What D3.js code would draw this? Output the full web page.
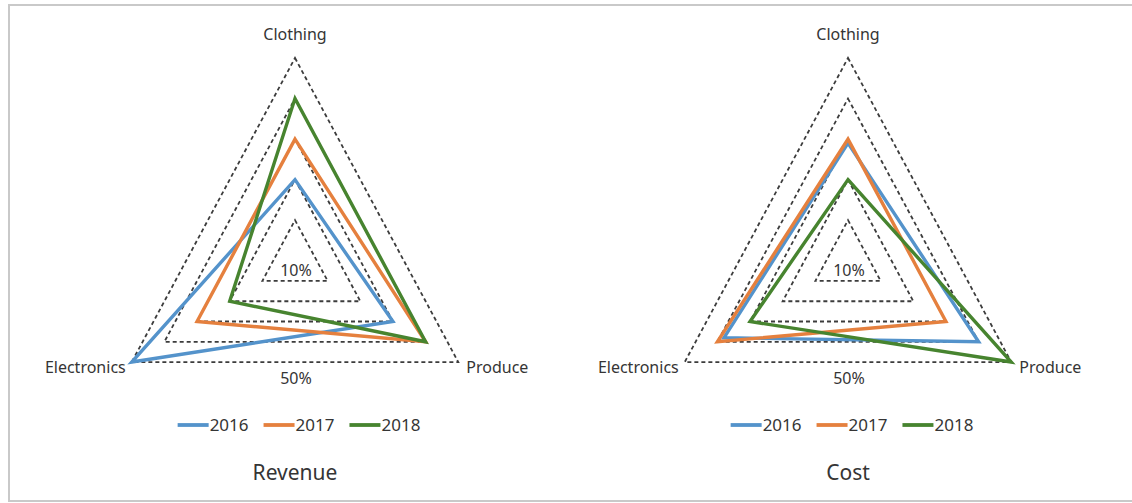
<!DOCTYPE html>
<html>
<head>
<meta charset="utf-8">
<script src="https://cdn.jsdelivr.net/npm/d3@7"></script>
<style>
  html, body { margin: 0; padding: 0; background: #fff; }
  svg { display: block; }
  text { font-family: "Noto Sans", "Open Sans", sans-serif; fill: #353535; }
</style>
</head>
<body>
<svg id="chart" width="1132" height="503"></svg>
<script>
// ---- data ----
const categories = ["Clothing", "Produce", "Electronics"];
const years = ["2016", "2017", "2018"];
const colors = ["#5493cb", "#e5803e", "#47842f"];
const gridLevels = [10, 20, 30, 40, 50];
const tickLabels = ["10%", "50%"];

const revenue2016 = [20, 30, 50];
const revenue2017 = [30, 40, 30];
const revenue2018 = [40, 40, 20];

const cost2016 = [29, 40, 38];
const cost2017 = [30, 30, 40];
const cost2018 = [20, 50, 30];

const panels = [
  { title: "Revenue", cx: 295, series: [revenue2016, revenue2017, revenue2018] },
  { title: "Cost", cx: 848, series: [cost2016, cost2017, cost2018] }
];

// ---- layout ----
const svg = d3.select("#chart");
const cy = 260.7;
const xStretch = 0.93;
const r = d3.scaleLinear().domain([0, 50]).range([0, 202.7]);
const ang = d3.scaleOrdinal().domain(categories).range([-90, 30, 150]);

svg.append("rect")
  .attr("x", 9).attr("y", 5).attr("width", 1130).attr("height", 496)
  .attr("fill", "none").attr("stroke", "#c9c9c9").attr("stroke-width", 2);

function pt(cx, cat, v) {
  const a = ang(cat) * Math.PI / 180;
  return [cx + Math.cos(a) * r(v) * xStretch, cy + Math.sin(a) * r(v)];
}

const line = d3.line().curve(d3.curveLinearClosed);

panels.forEach(p => {
  const g = svg.append("g");
  // grid rings
  g.selectAll("path.grid").data(gridLevels).join("path")
    .attr("class", "grid")
    .attr("d", lv => line(categories.map(c => pt(p.cx, c, lv))))
    .attr("fill", "none")
    .attr("stroke", "#3c3c3c")
    .attr("stroke-width", 1.8)
    .attr("stroke-dasharray", "4,3");

  // series
  g.selectAll("path.series").data(p.series).join("path")
    .attr("class", "series")
    .attr("d", vals => line(categories.map((c, i) => pt(p.cx, c, vals[i]))))
    .attr("fill", "none")
    .attr("stroke", (d, i) => colors[i])
    .attr("stroke-width", 3.4)
    .attr("stroke-linejoin", "miter");

  // category labels
  const top = pt(p.cx, "Clothing", 50);
  const right = pt(p.cx, "Produce", 50);
  const left = pt(p.cx, "Electronics", 50);
  g.append("text").text("Clothing").attr("x", top[0]).attr("y", 40)
    .attr("text-anchor", "middle").style("font-size", "16px");
  g.append("text").text("Produce").attr("x", right[0] + 8).attr("y", right[1] + 11)
    .attr("text-anchor", "start").style("font-size", "16px");
  g.append("text").text("Electronics").attr("x", left[0] - 6).attr("y", left[1] + 11)
    .attr("text-anchor", "end").style("font-size", "16px");

  // tick labels
  g.append("text").text(tickLabels[0]).attr("x", p.cx + 1).attr("y", 276)
    .attr("text-anchor", "middle").style("font-size", "16px");
  g.append("text").text(tickLabels[1]).attr("x", p.cx + 1).attr("y", 384)
    .attr("text-anchor", "middle").style("font-size", "16px");

  // legend
  const lg = g.append("g");
  let x = 0;
  years.forEach((y, i) => {
    const it = lg.append("g").attr("transform", `translate(${x},0)`);
    it.append("line").attr("x1", 0).attr("x2", 31).attr("y1", 0).attr("y2", 0)
      .attr("stroke", colors[i]).attr("stroke-width", 3.8);
    const t = it.append("text").text(y).attr("x", 32).attr("y", 6)
      .style("font-size", "17px");
    x += 32 + t.node().getComputedTextLength() + 15;
  });
  const total = x - 15;
  lg.attr("transform", `translate(${p.cx + 4 - total / 2},425)`);

  // title
  g.append("text").text(p.title).attr("x", p.cx).attr("y", 480)
    .attr("text-anchor", "middle").style("font-size", "21px");
});
</script>
</body>
</html>
